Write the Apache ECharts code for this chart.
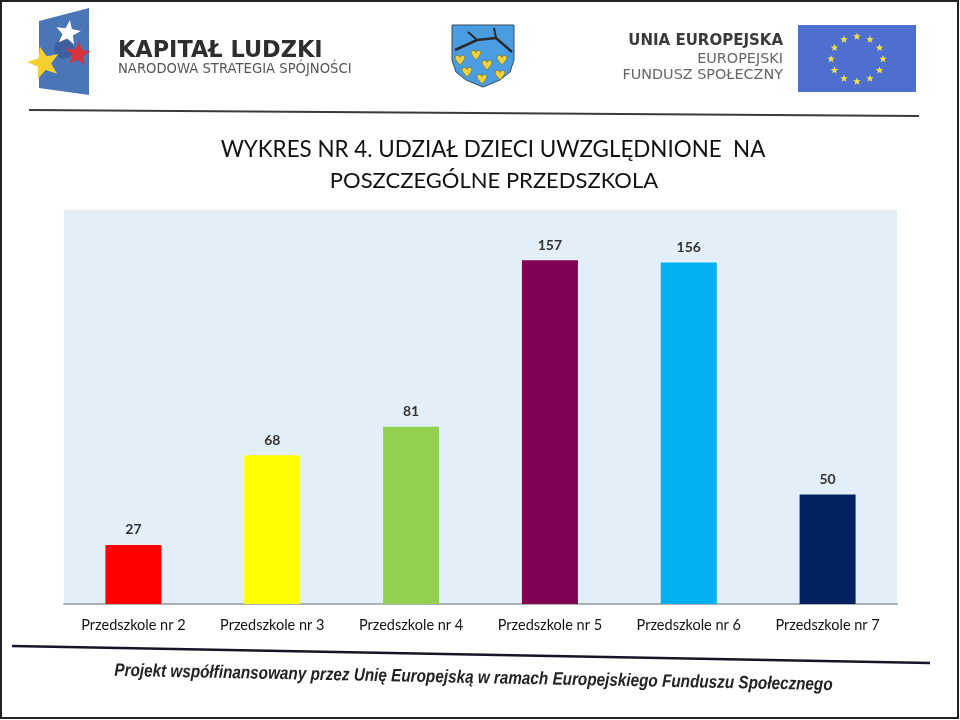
<!DOCTYPE html>
<html><head><meta charset="utf-8">
<style>html,body{margin:0;padding:0;background:#fff}#c{width:960px;height:720px}</style>
<script src="https://cdn.jsdelivr.net/npm/echarts@6/dist/echarts.min.js"></script></head>
<body><div id="c"></div>
<script>
const categories = ['Przedszkole nr 2','Przedszkole nr 3','Przedszkole nr 4','Przedszkole nr 5','Przedszkole nr 6','Przedszkole nr 7'];
const values = [27,68,81,157,156,50];
const barColors = ['#ff0000','#ffff00','#92d050','#7f0055','#00b0f0','#002060'];
const titleLines = ['WYKRES NR 4. UDZIAŁ DZIECI UWZGLĘDNIONE  NA','POSZCZEGÓLNE PRZEDSZKOLA'];
const font = 'Lato, "Open Sans", sans-serif';
const logoFont = '"DejaVu Sans", sans-serif';

function star(cx, cy, r, fill, rot) {
  return {type:'polygon', shape:{points:Array.from({length:10},(_,i)=>{
    const a=(rot||0)+i*Math.PI/5-Math.PI/2, q=i%2?r*0.42:r;
    return [cx+q*Math.cos(a),cy+q*Math.sin(a)];})}, style:{fill}};
}
function heart(cx, cy, s) {
  const p=[[0,1],[-0.55,0.35],[-0.85,-0.15],[-0.65,-0.6],[-0.25,-0.6],[0,-0.25],[0.25,-0.6],[0.65,-0.6],[0.85,-0.15],[0.55,0.35]];
  return {type:'polygon',shape:{points:p.map(([x,y])=>[cx+x*s,cy+y*s])},style:{fill:'#efd23c',stroke:'#6f6a2a',lineWidth:0.6}};
}
const euStars = Array.from({length:12},(_,i)=>{
  const a=i*Math.PI/6;
  return star(857+26*Math.sin(a),59-22.5*Math.cos(a),4,'#f2e24a');
});
const hearts = [[460,59],[476,54],[487,64],[502,59],[467,71],[500,74],[482,78]].map(([x,y])=>heart(x,y,6));
function t(x,y,text,size,color,extra){
  return {type:'text',x,y,style:{text,font:(extra&&extra.weight||'normal')+' '+size+'px '+logoFont,fill:color,
    textAlign:extra&&extra.align||'left',textVerticalAlign:'middle'}};
}
const graphics = [
  {type:'rect',shape:{x:1,y:1,width:957,height:717},style:{fill:'none',stroke:'#222',lineWidth:2}},
  {type:'polygon',shape:{points:[[39,21],[89,8],[89,95],[39,88]]},style:{fill:'#4a76b8'}},
  {type:'circle',shape:{cx:64,cy:49,r:10},style:{fill:'#3f5f9e'}},
  star(68,33,13,'#ffffff',0.15),
  star(78,54,13,'#d8323a',0.1),
  star(44,63,17,'#f6cf2e',-0.25),
  t(118,51,'KAPITAŁ LUDZKI',22.4,'#2e2e2e',{weight:'bold'}),
  t(118,70,'NARODOWA STRATEGIA SPÓJNOŚCI',13.2,'#555'),
  {type:'polygon',shape:{points:[[452,25],[514,25],[514,60],[510,72],[500,80],[483,87],[466,80],[456,72],[452,60]]},style:{fill:'#4a9de0',stroke:'#33495e',lineWidth:1}},
  {type:'polyline',shape:{points:[[455,50],[477,40],[496,38],[512,52]]},style:{stroke:'#2b2b2b',lineWidth:2.5,fill:'none'}},
  {type:'polyline',shape:{points:[[468,32],[477,40]]},style:{stroke:'#2b2b2b',lineWidth:2,fill:'none'}},
  {type:'polyline',shape:{points:[[494,28],[496,38]]},style:{stroke:'#2b2b2b',lineWidth:2,fill:'none'}},
  ...hearts,
  t(783,41,'UNIA EUROPEJSKA',15,'#3a3a3a',{weight:'bold',align:'right'}),
  t(783,59,'EUROPEJSKI',14.4,'#666',{align:'right'}),
  t(783,75,'FUNDUSZ SPOŁECZNY',14.4,'#666',{align:'right'}),
  {type:'rect',shape:{x:798,y:25,width:118,height:67},style:{fill:'#4f6fd0'}},
  ...euStars,
  {type:'line',shape:{x1:29,y1:110,x2:919,y2:116},style:{stroke:'#3a3a3a',lineWidth:2}},
  {type:'line',shape:{x1:12,y1:646,x2:930,y2:663},style:{stroke:'#15152a',lineWidth:2.5}},
  {type:'text',x:473.5,y:678,rotation:-0.02,scaleX:0.849,style:{text:'Projekt współfinansowany przez Unię Europejską w ramach Europejskiego Funduszu Społecznego',
    font:'italic bold 18px "Liberation Sans",sans-serif',fill:'#222',textAlign:'center',textVerticalAlign:'middle'}}
];
const chart = echarts.init(document.getElementById('c'),null,{renderer:'canvas'});
chart.setOption({
  animation:false,
  backgroundColor:'#ffffff',
  title:[
    {text:titleLines[0],left:488,top:134,textAlign:'center',textStyle:{fontFamily:font,fontSize:22.4,fontWeight:'normal',color:'#111'}},
    {text:titleLines[1],left:489,top:165,textAlign:'center',textStyle:{fontFamily:font,fontSize:22,fontWeight:'normal',color:'#111'}}
  ],
  grid:{left:64,top:210,width:833,height:394,show:true,backgroundColor:'#e2eef8',borderWidth:0},
  xAxis:{type:'category',data:categories,axisTick:{show:false},
    axisLine:{lineStyle:{color:'#aab0b8',width:2}},
    axisLabel:{color:'#111',fontFamily:font,fontSize:14.5,margin:14,interval:0}},
  yAxis:{type:'value',min:0,max:180,show:false,splitLine:{show:false}},
  series:[{type:'bar',barWidth:56,data:values.map((v,i)=>({value:v,itemStyle:{color:barColors[i]}})),
    label:{show:true,position:'top',distance:8,color:'#333',fontFamily:font,fontWeight:'bold',fontSize:14}}],
  graphic:{elements:graphics}
});
</script></body></html>
